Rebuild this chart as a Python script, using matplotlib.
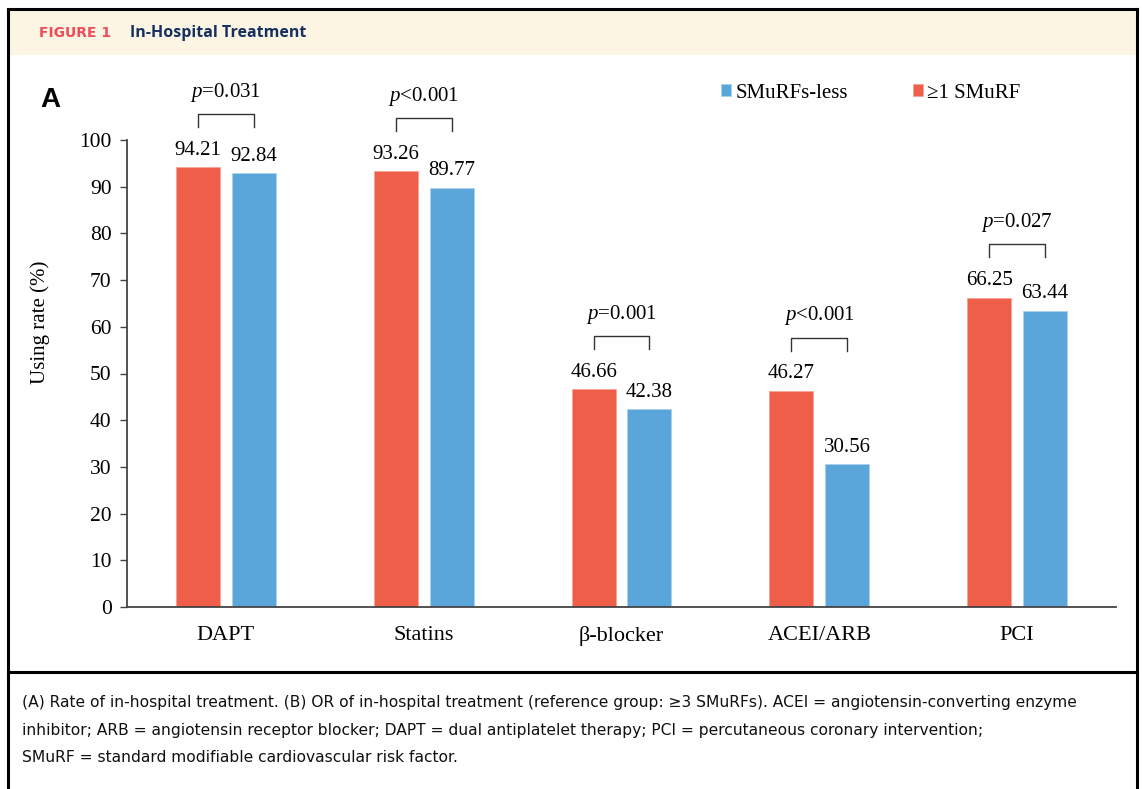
import matplotlib
matplotlib.use("Agg")
import matplotlib.pyplot as plt
from matplotlib.patches import Rectangle
from matplotlib.lines import Line2D
import numpy as np

categories = ["DAPT", "Statins", "β-blocker", "ACEI/ARB", "PCI"]
smurf1 = [94.21, 93.26, 46.66, 46.27, 66.25]
smurfless = [92.84, 89.77, 42.38, 30.56, 63.44]
pvalues = ["=0.031", "<0.001", "=0.001", "<0.001", "=0.027"]
yticks = [0, 10, 20, 30, 40, 50, 60, 70, 80, 90, 100]

RED = "#EF5E48"
BLUE = "#5AA6DA"
W, H = 1142, 789

plt.rcParams['font.family'] = ['Liberation Serif', 'DejaVu Serif']
plt.rcParams['mathtext.fontset'] = 'custom'
plt.rcParams['mathtext.it'] = 'Liberation Serif:italic'
plt.rcParams['mathtext.rm'] = 'Liberation Serif'

fig = plt.figure(figsize=(W / 100, H / 100), dpi=100)

def fx(px):
    return px / W

def fy(py):
    return 1 - py / H

# frame and header
fig.patches.append(Rectangle((fx(9), fy(55)), fx(1127), 45 / H, transform=fig.transFigure,
                             facecolor="#FDF5E3", edgecolor="none", zorder=0))
for (x0, y0, x1, y1, lw) in [(8, 9, 1137, 9, 2.2), (8, 9, 8, 789, 2.2), (1137, 9, 1137, 789, 2.2),
                              (8, 672, 1137, 672, 2.2)]:
    fig.add_artist(Line2D([fx(x0), fx(x1)], [fy(y0), fy(y1)], transform=fig.transFigure,
                          color="black", lw=lw, solid_capstyle="projecting"))

fig.text(fx(39), fy(33), "FIGURE 1", color="#EE4D5A", fontsize=10, fontweight="heavy",
         family=["DejaVu Sans"], va="center", ha="left")
fig.text(fx(130), fy(33), "In-Hospital Treatment", color="#14315F", fontsize=11.5, fontweight="bold",
         family=["Open Sans", "DejaVu Sans"], va="center", ha="left")

caption = ("(A) Rate of in-hospital treatment. (B) OR of in-hospital treatment (reference group: ≥3 SMuRFs). "
           "ACEI = angiotensin-converting enzyme\n"
           "inhibitor; ARB = angiotensin receptor blocker; DAPT = dual antiplatelet therapy; "
           "PCI = percutaneous coronary intervention;\n"
           "SMuRF = standard modifiable cardiovascular risk factor.")
fig.text(fx(22), fy(695), caption, fontsize=11.2, family=["DejaVu Sans"],
         va="top", ha="left", linespacing=2.05, color="#111111")

fig.text(fx(40), fy(100), "A", fontsize=20, fontweight="bold", family=["Liberation Sans", "DejaVu Sans"],
         va="center", ha="left")

# axes
ax = fig.add_axes([fx(127), 1 - 607 / H, 989 / W, (607 - 140) / H])
x = np.arange(len(categories))
bw = 0.222
off = 0.141
ax.bar(x - off, smurf1, bw, color=RED, edgecolor="#F7A090", linewidth=0.5, label="≥1 SMuRF", zorder=2)
ax.bar(x + off, smurfless, bw, color=BLUE, edgecolor="#A8D0EE", linewidth=0.5, label="SMuRFs-less", zorder=2)

for i in range(len(categories)):
    ax.text(x[i] - off, smurf1[i] + 1.6, f"{smurf1[i]:.2f}", ha="center", va="bottom", fontsize=15)
    ax.text(x[i] + off, smurfless[i] + 1.6, f"{smurfless[i]:.2f}", ha="center", va="bottom", fontsize=15)
    top = max(smurf1[i], smurfless[i])
    b0 = top + 8.6
    b1 = b0 + 2.8
    ax.plot([x[i] - off, x[i] - off, x[i] + off, x[i] + off], [b0, b1, b1, b0], color="#333333",
            lw=1.0, clip_on=False)
    ax.text(x[i], b1 + 2.2, "$p$" + pvalues[i], ha="center", va="bottom", fontsize=15, clip_on=False)

ax.set_xlim(-0.5, 4.5)
ax.set_ylim(0, 100)
ax.set_yticks(yticks)
ax.set_xticks(x)
ax.set_xticklabels(categories, fontsize=16)
ax.tick_params(axis="x", length=0, pad=14)
ax.tick_params(axis="y", length=5, width=1, labelsize=15.5, direction="out", color="#444444", pad=6)
for s in ["top", "right"]:
    ax.spines[s].set_visible(False)
for s in ["left", "bottom"]:
    ax.spines[s].set_color("#444444")
    ax.spines[s].set_linewidth(1.3)
ax.set_ylabel("Using rate (%)", fontsize=15)
ax.yaxis.set_label_coords(-0.078, 0.61)

handles, labels = ax.get_legend_handles_labels()
ax.legend(handles[::-1], labels[::-1], loc="center left", bbox_to_anchor=(fx(721), fy(93)),
          bbox_transform=fig.transFigure, ncol=2, frameon=False, fontsize=15, handlelength=0.5,
          handleheight=0.5, handletextpad=0.2, columnspacing=3.1, borderaxespad=0, borderpad=0)

fig.savefig("out.png", dpi=100)
